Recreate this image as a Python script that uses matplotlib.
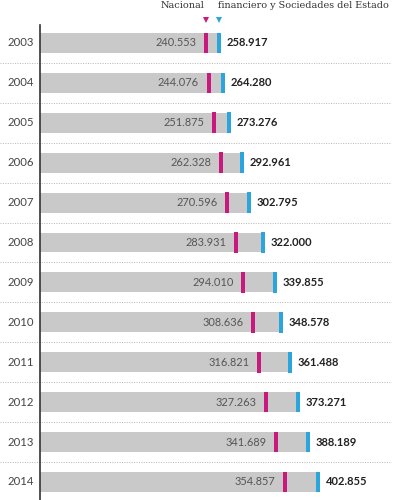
import matplotlib
matplotlib.use("Agg")
import matplotlib.pyplot as plt
from matplotlib.transforms import offset_copy

years = ["2003", "2004", "2005", "2006", "2007", "2008", "2009", "2010",
         "2011", "2012", "2013", "2014"]
nacional = [240553, 244076, 251875, 262328, 270596, 283931, 294010, 308636,
            316821, 327263, 341689, 354857]
total = [258917, 264280, 273276, 292961, 302795, 322000, 339855, 348578,
         361488, 373271, 388189, 402855]
header_left = "Nacional"
header_right = "financiero y Sociedades del Estado"

magenta = "#c8197f"
blue = "#2aa6dc"
bar_grey = "#c9c9c9"


def fmt(v):
    return f"{v:,}".replace(",", ".")


fig = plt.figure(figsize=(4, 5), dpi=100)
ax = fig.add_axes([0, 0, 1, 1])
# pixel x = 40 + value * 0.000691 ; pixel y = 43 + row * 39.9
ax.set_xlim(-40 / 0.000691, 360 / 0.000691)
ax.set_ylim((500 - 43) / 39.9, -43 / 39.9)
ax.axis("off")

rows = list(range(len(years)))
ax.barh(rows, total, height=0.5, color=bar_grey, left=0, zorder=1)

mw = 4 / 0.000691
ax.barh(rows, [mw] * len(rows), left=[v - mw / 2 for v in nacional],
        height=0.52, color=magenta, zorder=2)
ax.barh(rows, [mw] * len(rows), left=[v - mw / 2 for v in total],
        height=0.52, color=blue, zorder=2)

t_left = offset_copy(ax.transData, fig=fig, x=-7, y=0, units="points")
t_right = offset_copy(ax.transData, fig=fig, x=5.5, y=0, units="points")
t_year = offset_copy(ax.transData, fig=fig, x=-4.5, y=0, units="points")
for i, (y, n, t) in enumerate(zip(years, nacional, total)):
    ax.text(n, i, fmt(n), transform=t_left, ha="right", va="center",
            fontsize=7.9, color="#555555", family="Lato")
    ax.text(t, i, fmt(t), transform=t_right, ha="left", va="center",
            fontsize=8, color="#222222", family="Lato", fontweight="bold")
    ax.text(0, i, y, transform=t_year, ha="right", va="center",
            fontsize=8.2, color="#444444", family="Lato")

# dotted separators
for i in rows:
    ax.axhline(i + 0.5, xmin=0, xmax=0.975, color="#b5b5b5", lw=0.7,
               ls=(0, (1, 1.5)), zorder=0)

# vertical axis
ax.plot([0, 0], [-0.45, 11.6], color="#333333", lw=1.2, zorder=3)

# header
ax.text(nacional[0] - 2 / 0.000691, -0.93, header_left, ha="right", va="center",
        fontsize=7, family="DejaVu Serif", color="#333333")
ax.text(total[0] - 1 / 0.000691, -0.93, header_right, ha="left", va="center",
        fontsize=6.9, family="DejaVu Serif", color="#333333")
ax.plot([nacional[0]], [-0.58], marker="v", color=magenta, ms=4, mew=0)
ax.plot([total[0]], [-0.58], marker="v", color=blue, ms=4, mew=0)

fig.savefig("out.png", dpi=100)
